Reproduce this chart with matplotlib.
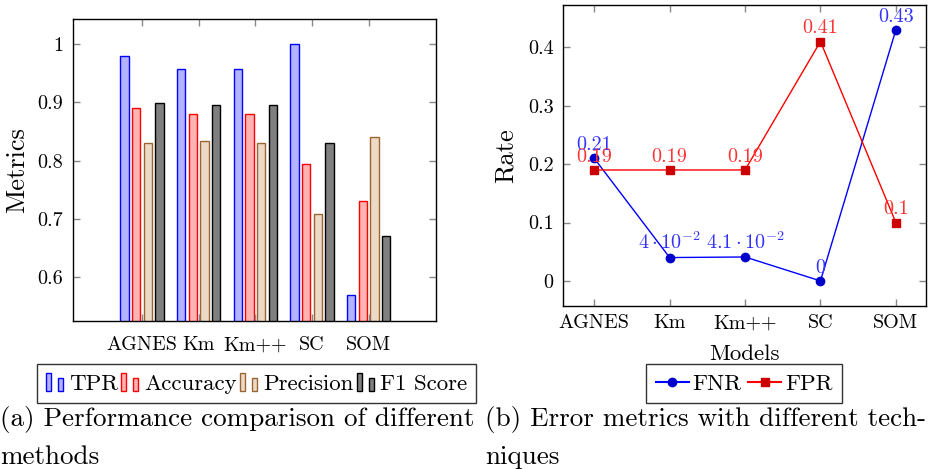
import matplotlib
matplotlib.use("Agg")
import matplotlib.pyplot as plt
import numpy as np
from matplotlib.patches import Rectangle
from matplotlib.lines import Line2D
from matplotlib.legend_handler import HandlerBase

plt.rcParams['font.family'] = ['cmr10', 'DejaVu Serif']
plt.rcParams['mathtext.fontset'] = 'cm'
plt.rcParams['axes.formatter.use_mathtext'] = True

models = ["AGNES", "Km", "Km++", "SC", "SOM"]
tpr = [0.98, 0.958, 0.958, 1.0, 0.57]
accuracy = [0.89, 0.88, 0.88, 0.795, 0.73]
precision = [0.83, 0.833, 0.83, 0.709, 0.84]
f1 = [0.899, 0.895, 0.895, 0.83, 0.67]
metric_names = ["TPR", "Accuracy", "Precision", "F1 Score"]

fnr = [0.21, 0.04, 0.041, 0.0, 0.43]
fpr = [0.19, 0.19, 0.19, 0.41, 0.1]
fnr_labels = ["0.21", r"$4\cdot10^{-2}$", r"$4.1\cdot10^{-2}$", "0", "0.43"]
fpr_labels = ["0.19", "0.19", "0.19", "0.41", "0.1"]

left_yticks = [0.6, 0.7, 0.8, 0.9, 1.0]
left_yticklabels = ["0.6", "0.7", "0.8", "0.9", "1"]
right_yticks = [0.0, 0.1, 0.2, 0.3, 0.4]
right_yticklabels = ["0", "0.1", "0.2", "0.3", "0.4"]

fills = ["#b3b3ff", "#ffb3b3", "#ecd9c6", "#808080"]
edges = ["#0000ff", "#ff0000", "#996633", "#000000"]


class TwoBarHandler(HandlerBase):
    def create_artists(self, legend, orig_handle, xdescent, ydescent, width, height,
                       fontsize, trans):
        fc = orig_handle.get_facecolor()
        ec = orig_handle.get_edgecolor()
        bw = width * 0.3
        r1 = Rectangle((-xdescent, -ydescent), bw, height, facecolor=fc, edgecolor=ec,
                       linewidth=1.0, transform=trans)
        r2 = Rectangle((-xdescent + width * 0.68, -ydescent), bw, height * 0.75,
                       facecolor=fc, edgecolor=ec, linewidth=1.0, transform=trans)
        return [r1, r2]


fig = plt.figure(figsize=(9.37, 4.69), dpi=100)
ax1 = fig.add_axes([0.0779, 0.3156, 0.3874, 0.6439])
ax2 = fig.add_axes([0.6012, 0.3475, 0.3871, 0.6424])

x = np.arange(len(models))
w = 0.147
step = 0.206
series = [tpr, accuracy, precision, f1]
for i, vals in enumerate(series):
    ax1.bar(x + (i - 1.5) * step, vals, width=w, color=fills[i], edgecolor=edges[i],
            linewidth=1.0, label=metric_names[i])
ax1.set_xlim(-1.22, 5.19)
ax1.set_ylim(0.525, 1.043)
ax1.set_xticks(x)
ax1.set_xticklabels(models)
ax1.set_yticks(left_yticks)
ax1.set_yticklabels(left_yticklabels)
ax1.set_ylabel("Metrics", fontsize=19)
ax1.yaxis.set_label_coords(-0.122, 0.5)
ax1.tick_params(axis='both', direction='in', length=5, color='#888888', top=True, right=True,
                labelsize=14.5, width=1)
ax1.tick_params(axis='x', pad=11)
ax1.tick_params(axis='y', pad=7)

ax2.plot(x, fnr, color='#0000ff', linewidth=1.0, marker='o', markersize=6,
         markerfacecolor='#0000cc', markeredgecolor='#0000cc', label='FNR')
ax2.plot(x, fpr, color='#ff0000', linewidth=1.0, marker='s', markersize=6,
         markerfacecolor='#cc0000', markeredgecolor='#cc0000', label='FPR')
for xi, yi, lab in zip(x, fnr, fnr_labels):
    ax2.annotate(lab, (xi, yi), xytext=(0, 3), textcoords='offset points', ha='center',
                 va='bottom', color='#3333ff', fontsize=14.5)
for xi, yi, lab in zip(x, fpr, fpr_labels):
    ax2.annotate(lab, (xi, yi), xytext=(0, 3), textcoords='offset points', ha='center',
                 va='bottom', color='#ff3333', fontsize=14.5)
ax2.set_xlim(-0.41, 4.40)
ax2.set_ylim(-0.043, 0.473)
ax2.set_xticks(x)
ax2.set_xticklabels(models)
ax2.set_yticks(right_yticks)
ax2.set_yticklabels(right_yticklabels)
ax2.set_ylabel("Rate", fontsize=19)
ax2.yaxis.set_label_coords(-0.125, 0.5)
ax2.set_xlabel("Models", fontsize=16.5)
ax2.xaxis.set_label_coords(0.5, -0.127)
ax2.tick_params(axis='both', direction='in', length=5, color='#888888', top=True, right=True,
                labelsize=14.5, width=1)
ax2.tick_params(axis='x', pad=6)
ax2.tick_params(axis='y', pad=7)

for ax in (ax1, ax2):
    for s in ax.spines.values():
        s.set_linewidth(1.0)
        s.set_color('black')

h1 = [Rectangle((0, 0), 1, 1, facecolor=fills[i], edgecolor=edges[i], linewidth=1.0)
      for i in range(4)]
leg1 = fig.legend(h1, metric_names, loc='center', bbox_to_anchor=(0.2737, 0.1823), ncol=4,
                  fontsize=16.5, frameon=True, fancybox=False, edgecolor='black',
                  handler_map={Rectangle: TwoBarHandler()},
                  handlelength=0.75, handleheight=0.85, handletextpad=0.25, columnspacing=0.15,
                  borderpad=0.4, borderaxespad=0)
leg1.get_frame().set_linewidth(1.0)

h2 = [Line2D([], [], color='#0000ff', marker='o', markersize=6, markerfacecolor='#0000cc',
             markeredgecolor='#0000cc'),
      Line2D([], [], color='#ff0000', marker='s', markersize=6, markerfacecolor='#cc0000',
             markeredgecolor='#cc0000')]
leg2 = fig.legend(h2, ["FNR", "FPR"], loc='center', bbox_to_anchor=(0.794, 0.1823), ncol=2,
                  fontsize=16.5, frameon=True, fancybox=False, edgecolor='black',
                  handlelength=1.45, handletextpad=0.15, columnspacing=0.3,
                  borderpad=0.4, borderaxespad=0)
leg2.get_frame().set_linewidth(1.0)

fig.text(0.0, 0.1045, "(a) Performance comparison of different", fontsize=19.5,
         ha='left', va='center')
fig.text(0.0, 0.0256, "methods", fontsize=19.5, ha='left', va='center')
fig.text(0.5176, 0.1045, "(b) Error metrics with different tech-", fontsize=19.5,
         ha='left', va='center')
fig.text(0.5176, 0.0256, "niques", fontsize=19.5, ha='left', va='center')

fig.savefig("out.png", dpi=100)
